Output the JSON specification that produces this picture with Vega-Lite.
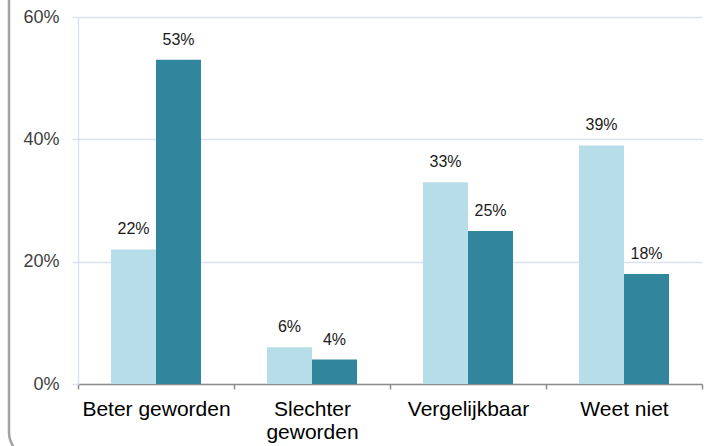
{
  "$schema": "https://vega.github.io/schema/vega-lite/v6.json",
  "autosize": {"type": "none"},
  "padding": {"left": 9, "top": -30, "right": -31, "bottom": -12},
  "width": 731,
  "height": 488,
  "config": {
    "font": "Liberation Sans",
    "view": {"stroke": "#a3a3a3", "strokeWidth": 2.5, "cornerRadius": 26}
  },
  "data": {
    "values": [
      {"categorie": "Beter geworden", "reeks": "Reeks 1", "waarde": 0.22},
      {"categorie": "Beter geworden", "reeks": "Reeks 2", "waarde": 0.53},
      {"categorie": "Slechter\ngeworden", "reeks": "Reeks 1", "waarde": 0.06},
      {"categorie": "Slechter\ngeworden", "reeks": "Reeks 2", "waarde": 0.04},
      {"categorie": "Vergelijkbaar", "reeks": "Reeks 1", "waarde": 0.33},
      {"categorie": "Vergelijkbaar", "reeks": "Reeks 2", "waarde": 0.25},
      {"categorie": "Weet niet", "reeks": "Reeks 1", "waarde": 0.39},
      {"categorie": "Weet niet", "reeks": "Reeks 2", "waarde": 0.18}
    ]
  },
  "encoding": {
    "x": {
      "field": "categorie",
      "type": "nominal",
      "sort": null,
      "scale": {"range": [69, 693], "paddingInner": 0, "paddingOuter": 0},
      "axis": {
        "title": null,
        "offset": -74,
        "labelAngle": 0,
        "labelExpr": "isString(datum.value) ? split(datum.value, '\\n') : ''",
        "labelFontSize": 21,
        "labelColor": "#000000",
        "labelLineHeight": 23,
        "labelPadding": 9,
        "tickBand": "extent",
        "tickSize": 5,
        "tickColor": "#8c8c8c",
        "tickWidth": 1.5,
        "domainColor": "#8c8c8c",
        "domainWidth": 1.5,
        "grid": false
      }
    },
    "xOffset": {
      "field": "reeks",
      "type": "nominal",
      "scale": {"paddingOuter": 0.733, "paddingInner": 0}
    },
    "y": {
      "field": "waarde",
      "type": "quantitative",
      "scale": {"domain": [0, 0.6], "range": [414, 47], "nice": false},
      "axis": {
        "title": null,
        "offset": -69,
        "format": ".0%",
        "values": [0, 0.2, 0.4, 0.6],
        "labelFontSize": 18,
        "labelColor": "#404040",
        "labelPadding": 13,
        "tickSize": 6,
        "tickColor": "#d9e3f0",
        "tickWidth": 1.5,
        "domainColor": "#d9e3f0",
        "domainWidth": 1.5,
        "grid": true,
        "gridColor": "#d9e3f0",
        "gridWidth": 1.5
      }
    }
  },
  "layer": [
    {
      "mark": {"type": "bar"},
      "encoding": {
        "color": {
          "field": "reeks",
          "type": "nominal",
          "scale": {"domain": ["Reeks 1", "Reeks 2"], "range": ["#b7dde8", "#31859c"]},
          "legend": null
        }
      }
    },
    {
      "mark": {"type": "text", "baseline": "alphabetic", "dy": -15, "fontSize": 16, "color": "#1a1a1a"},
      "encoding": {
        "text": {"field": "waarde", "type": "quantitative", "format": ".0%"}
      }
    }
  ]
}
